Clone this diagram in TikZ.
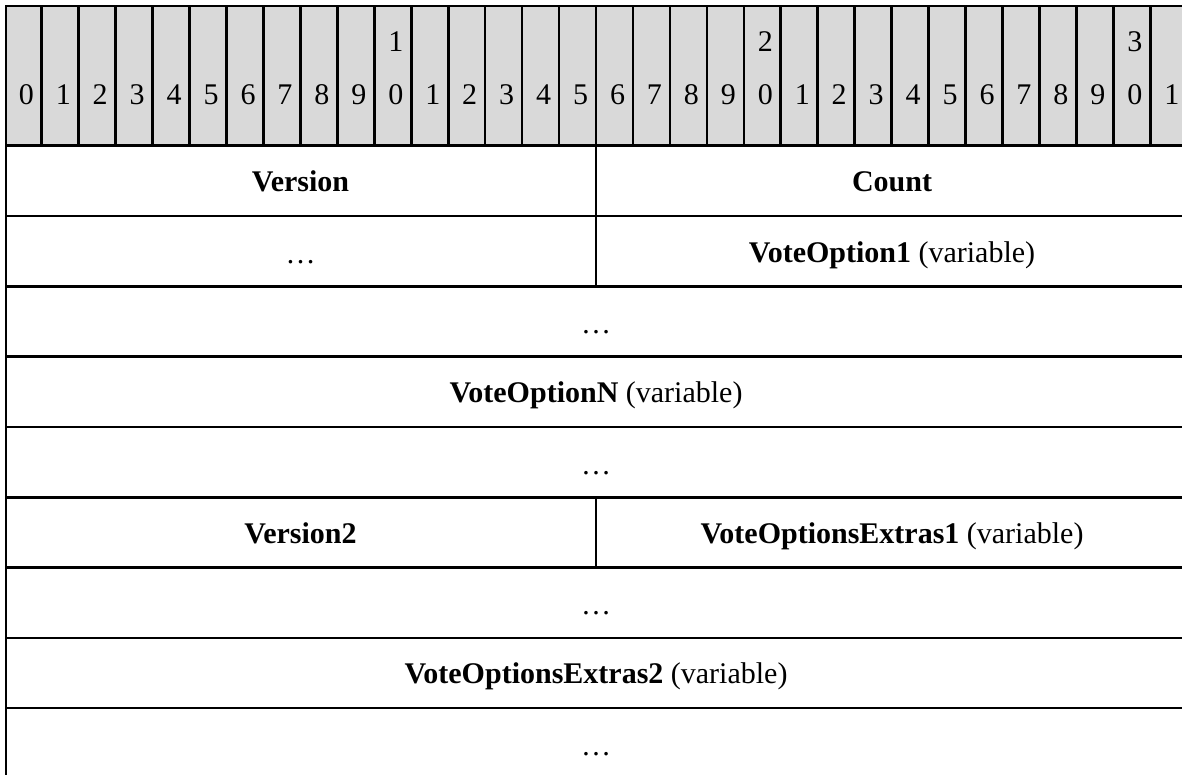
\documentclass[tikz,border=0pt]{standalone}
\usepackage{fontspec}
\setmainfont{Liberation Serif}
\begin{document}
\begin{tikzpicture}[x=1pt,y=-1pt,
  gridline/.style={line width=2.6pt,line cap=rect},
  lbl/.style={font=\fontsize{30}{36}\selectfont,anchor=base,inner sep=0pt},
  hdr/.style={fill=black!15}]
\useasboundingbox (0,0) rectangle (1182,775);
% header background
\fill[hdr] (6,6) rectangle (1195,145.7);
% outer lines
\draw[gridline] (1195,6) -- (6,6) -- (6,790);
% header column separators and digits
\foreach \i in {1,...,31}{
  \draw[gridline] ({4.8+36.95*\i},6) -- ({4.8+36.95*\i},145.7);
}
\foreach \i in {0,...,31}{
  \pgfmathtruncatemacro{\u}{mod(\i,10)}
  \pgfmathtruncatemacro{\t}{floor(\i/10)}
  \node[lbl] (d\i) at ({4.8+36.95*\i+18.5+3},105) {\u};
  \ifnum\i>9 \ifnum\u=0
    \node[lbl] (t\i) at ({4.8+36.95*\i+18.5+3},52) {\t};
  \fi\fi
}
% row lines
\foreach \k in {0,...,8}{
  \draw[gridline] (6,{145.7+70.3*\k}) -- (1195,{145.7+70.3*\k});
}
% splits
\draw[gridline] (596,145.7) -- (596,286.3);
\draw[gridline] (596,497.2) -- (596,567.5);
% row texts (baseline = row centre + 11)
\node[lbl] (version) at (300.5,{145.7+35.15+11}) {\textbf{Version}};
\node[lbl] (count) at (892,{145.7+35.15+11}) {\textbf{Count}};
\node[lbl] (dots1) at (300.5,{216+35.15+12}) {…};
\node[lbl] (vo1) at (892,{216+35.15+11}) {\textbf{VoteOption1} (variable)};
\node[lbl] (dots2) at (596,{286.3+35.15+12}) {…};
\node[lbl] (von) at (596,{356.6+35.15+11}) {\textbf{VoteOptionN} (variable)};
\node[lbl] (dots3) at (596,{426.9+35.15+12}) {…};
\node[lbl] (version2) at (300.5,{497.2+35.15+11}) {\textbf{Version2}};
\node[lbl] (voe1) at (892,{497.2+35.15+11}) {\textbf{VoteOptionsExtras1} (variable)};
\node[lbl] (dots4) at (596,{567.5+35.15+12}) {…};
\node[lbl] (voe2) at (596,{637.8+35.15+11}) {\textbf{VoteOptionsExtras2} (variable)};
\node[lbl] (dots5) at (596,{708.1+35.15+12}) {…};
\end{tikzpicture}
\end{document}
